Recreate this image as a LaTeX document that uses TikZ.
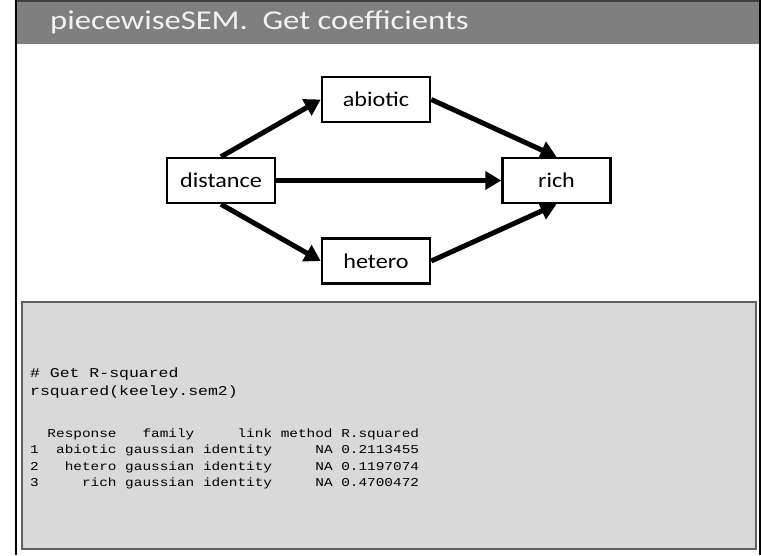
\documentclass[tikz,border=0pt]{standalone}
\usepackage{fontspec}
\usetikzlibrary{arrows.meta}
\newfontfamily\titlefont[FakeStretch=1.2]{Carlito}
\newfontfamily\slidefont[FakeStretch=1.15]{Carlito}
\newfontfamily\codefont[FakeStretch=1.22]{Liberation Mono}
\newfontfamily\tablefont[FakeStretch=1.2]{Liberation Mono}
\definecolor{headergray}{HTML}{7F7F7F}
\definecolor{headerline}{HTML}{404040}
\definecolor{titlewhite}{HTML}{F2F2F2}
\definecolor{panelfill}{HTML}{D9D9D9}
\definecolor{panelline}{HTML}{5F5F5F}
\tikzset{
  varbox/.style={draw=black, line width=2.5pt, fill=white, minimum width=108pt,
    minimum height=45pt, inner sep=0pt,
    font=\slidefont\fontsize{21}{21}\selectfont},
  path/.style={line width=5pt, -{Triangle[length=16pt,width=18pt]}},
  codeline/.style={anchor=base west, inner sep=0pt,
    font=\codefont\fontsize{13.5}{13.5}\selectfont},
  tableline/.style={anchor=base west, inner sep=0pt,
    font=\tablefont\fontsize{12}{12}\selectfont}
}
\begin{document}
\begin{tikzpicture}[x=1pt,y=-1pt]
\useasboundingbox (0,0) rectangle (761,555);
\fill[white] (0,0) rectangle (761,555);
% slide header
\fill[headergray] (16,0) rectangle (761,44);
\fill[headerline] (16,0) rectangle (761,1.5);
\node[anchor=base west, inner sep=0pt, text=titlewhite,
  font=\titlefont\fontsize{27.2}{27.2}\selectfont] (title) at (50,29)
  {piecewiseSEM.~~Get coefficients};
% slide frame
\draw[black, line width=2.5pt] (16,0) -- (16,555);
\draw[black, line width=2.5pt] (759.8,0) -- (759.8,555);
% path diagram
\node[varbox] (abiotic) at (376,99.5) {abiotic};
\node[varbox] (distance) at (221,180.5) {distance};
\node[varbox] (rich) at (556.5,180.5) {rich};
\node[varbox] (hetero) at (376,261) {hetero};
\draw[path] (distance.north) -- (abiotic.west);
\draw[path] (distance.east) -- (rich.west);
\draw[path] (distance.south) -- (hetero.west);
\draw[path] (abiotic.east) -- (rich.north);
\draw[path] (hetero.east) -- (rich.south);
% R output panel
\draw[panelline, fill=panelfill, line width=2.5pt] (22,302) rectangle (756,549);
\node[codeline] (c1) at (30,377) {\#~Get~R-squared};
\node[codeline] (c2) at (30,395) {rsquared(keeley.sem2)};
\node[tableline] (t0) at (30,437) {~~Response~~~family~~~~~link~method~R.squared};
\node[tableline] (t1) at (30,453) {1~~abiotic~gaussian~identity~~~~~NA~0.2113455};
\node[tableline] (t2) at (30,470) {2~~~hetero~gaussian~identity~~~~~NA~0.1197074};
\node[tableline] (t3) at (30,486) {3~~~~~rich~gaussian~identity~~~~~NA~0.4700472};
\end{tikzpicture}
\end{document}
